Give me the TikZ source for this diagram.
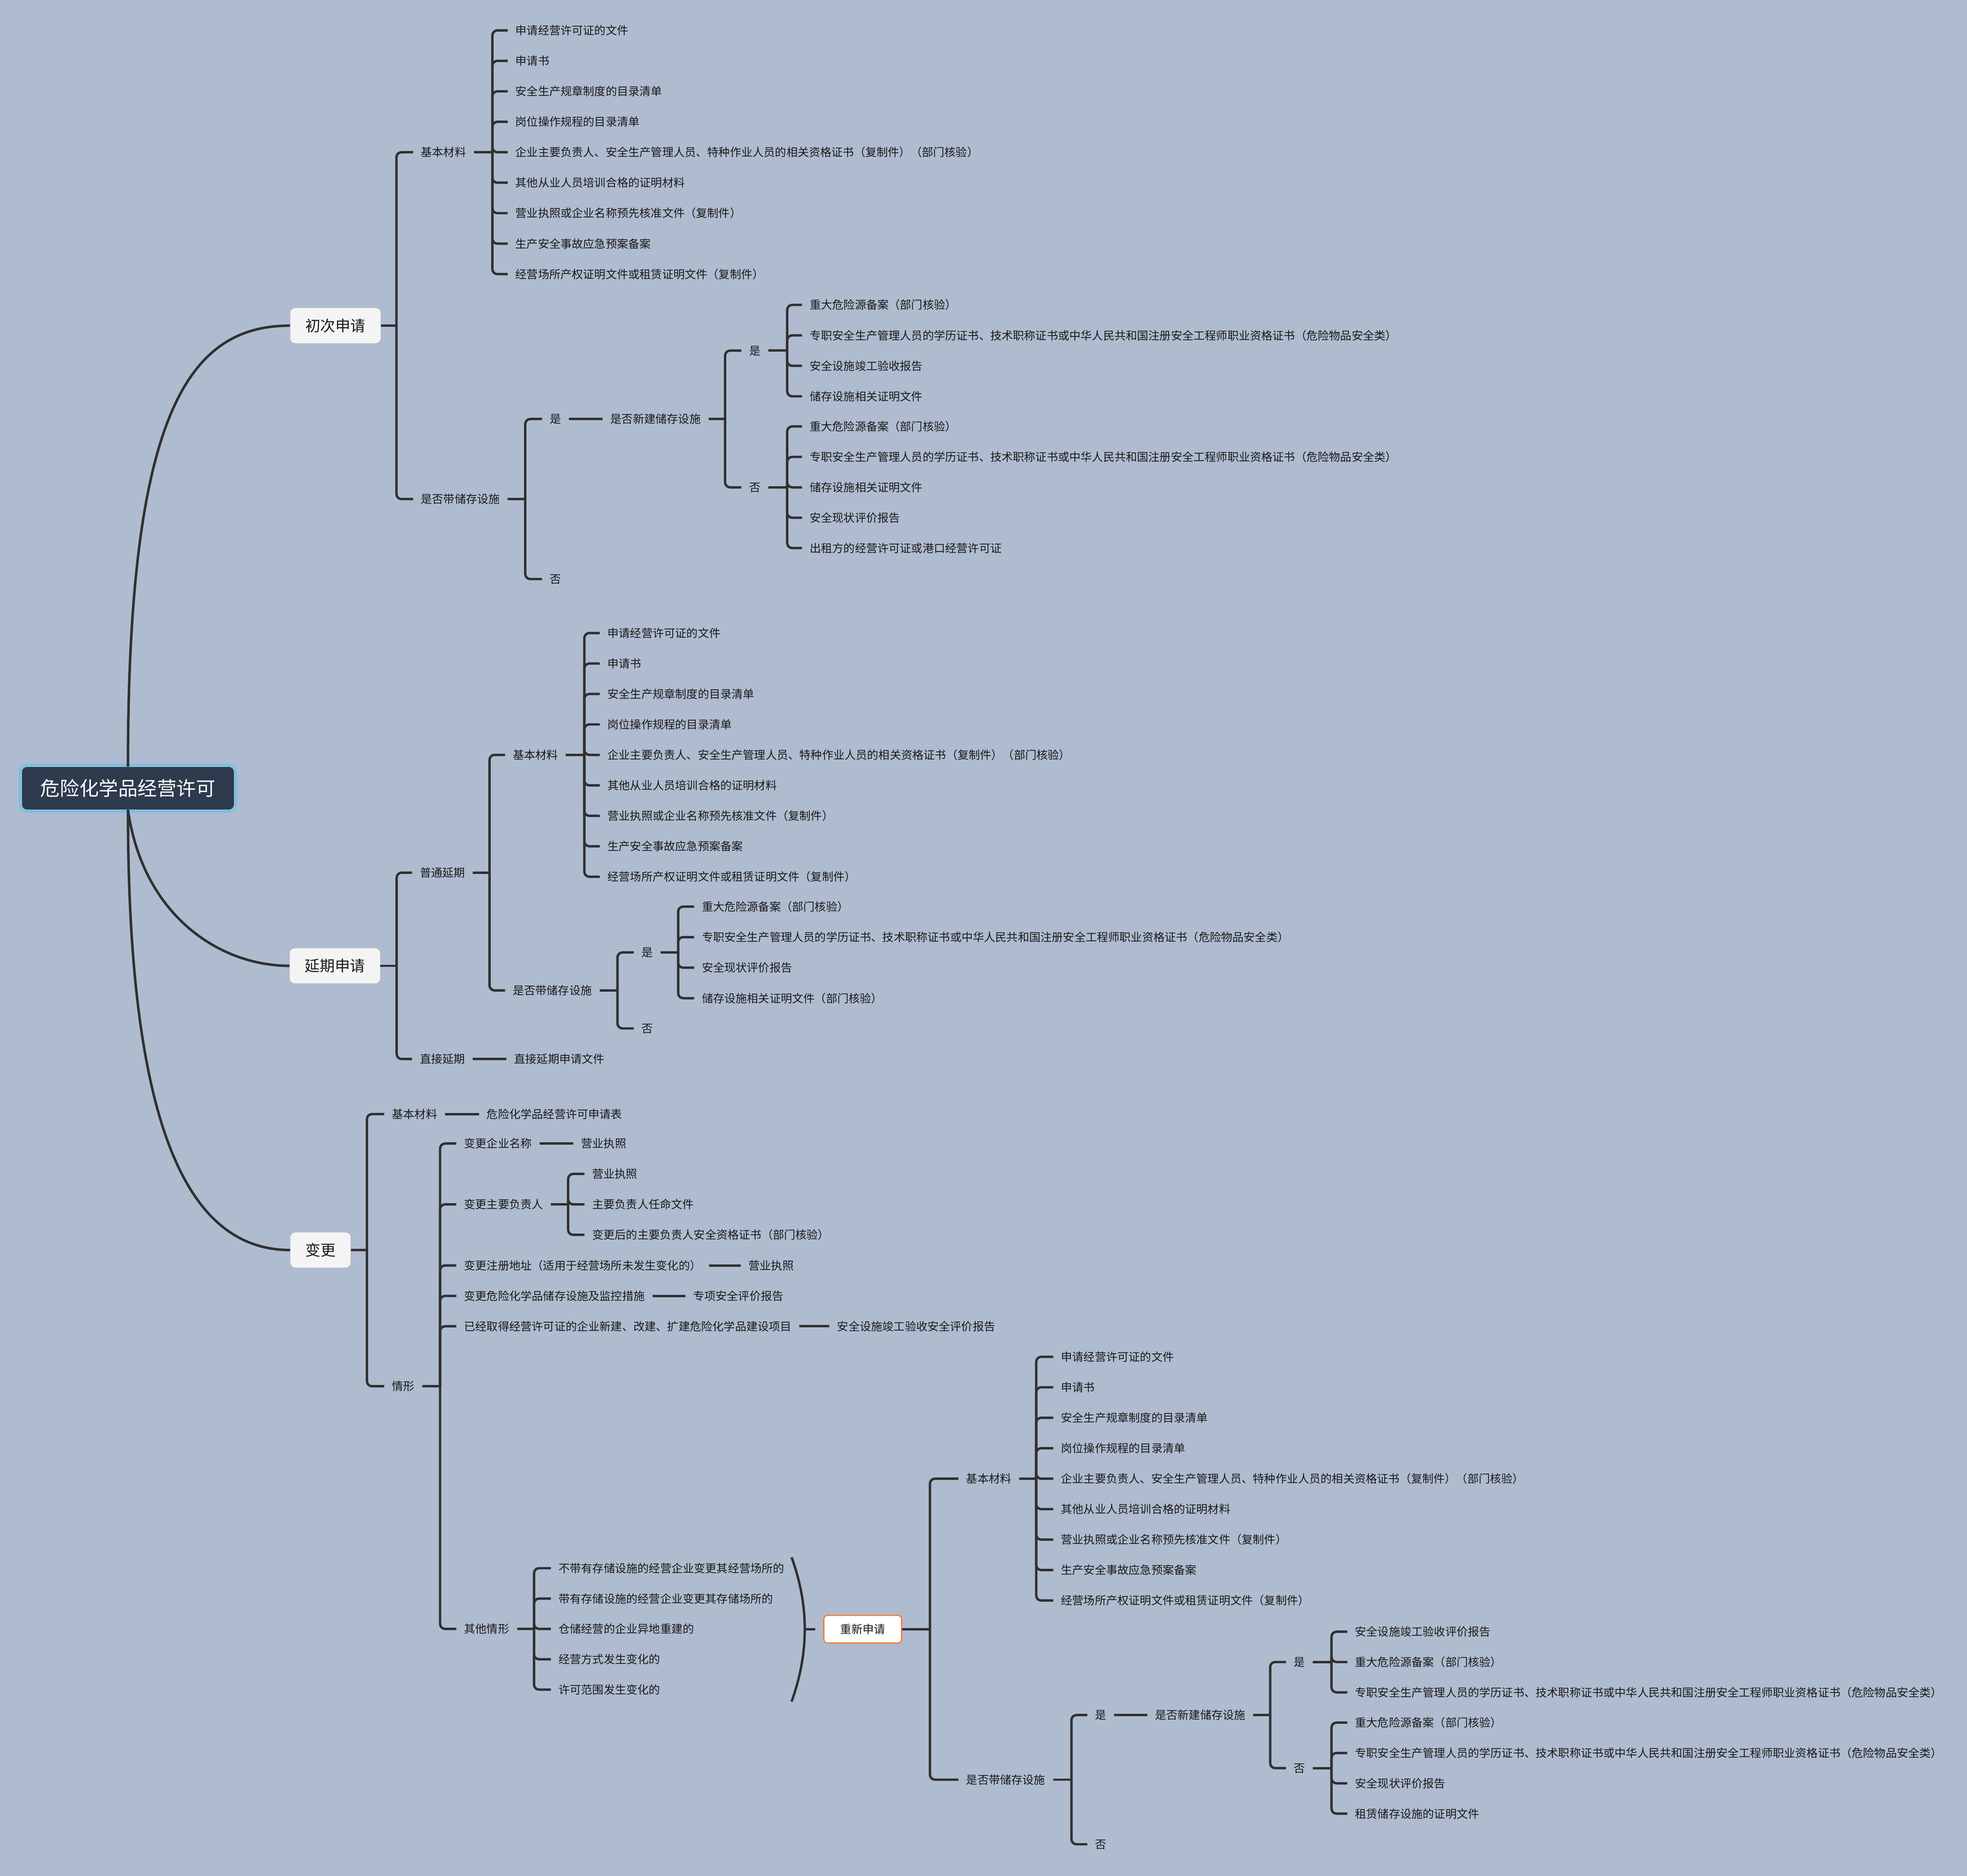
\documentclass[tikz,border=0pt]{standalone}
\usepackage{fontspec}
\setmainfont{Noto Sans CJK SC}
\definecolor{bg}{RGB}{175,187,207}
\definecolor{lnc}{RGB}{48,48,48}
\definecolor{tx}{RGB}{25,25,25}
\definecolor{rootfill}{RGB}{46,58,77}
\definecolor{rootring}{RGB}{92,196,250}
\definecolor{boxfill}{RGB}{244,244,244}
\definecolor{orng}{RGB}{245,120,40}
\newcommand\zhuanzhi{专职安全生产管理人员的学历证书、技术职称证书或中华人民共和国注册安全工程师职业资格证书（危险物品安全类）}
\newcommand\zhongda{重大危险源备案（部门核验）}
\newcommand\basiclist[3]{%
 \foreach \itemtext [count=\i] in {申请经营许可证的文件,申请书,安全生产规章制度的目录清单,岗位操作规程的目录清单,企业主要负责人、安全生产管理人员、特种作业人员的相关资格证书（复制件）（部门核验）,其他从业人员培训合格的证明材料,营业执照或企业名称预先核准文件（复制件）,生产安全事故应急预案备案,经营场所产权证明文件或租赁证明文件（复制件）}
 {\node[lf] (#1-\i) at (#2,{#3+24.29*(\i-5)}) {\itemtext};}%
}
\newcommand\mmgroup[4]{%
 \coordinate (#1-s) at (#2,#3);
 \draw[cn] (#1.east) -- (#1-s);
 \foreach \cc in {#4} {\draw[br] (#1-s) |- (\cc.west);}%
}
\begin{document}
\begin{tikzpicture}[x=1pt,y=-1pt,
 lf/.style={anchor=west, xshift=-6pt, inner xsep=6pt, inner ysep=0pt, text height=7.47pt, text depth=0.63pt, font=\fontsize{9}{9}\selectfont, text=tx},
 l1/.style={rectangle, rounded corners=4pt, fill=boxfill, inner xsep=12pt, inner ysep=0pt, minimum height=28pt, text height=9.96pt, text depth=0.84pt, font=\fontsize{12}{12}\selectfont, text=tx},
 rootbox/.style={rectangle, rounded corners=4pt, fill=rootfill, minimum width=169pt, minimum height=34pt, inner sep=0pt, text=white, text height=12.87pt, text depth=1.09pt, font=\fontsize{15.5}{15.5}\selectfont},
 rebox/.style={rectangle, rounded corners=3pt, draw=orng, fill=white, line width=0.9pt, minimum width=62pt, minimum height=22pt, inner sep=0pt, text=tx, text height=7.47pt, text depth=0.63pt, font=\fontsize{9}{9}\selectfont},
 cn/.style={draw=lnc, line width=1.9pt},
 br/.style={cn, rounded corners=4pt},
 mc/.style={draw=lnc, line width=2pt},
]
\fill[bg] (0,0) rectangle (1568,1495.8);
\useasboundingbox (0,0) rectangle (1568,1495.8);

% root
\node[rootbox] (root) at (102,628.5) {危险化学品经营许可};
\draw[rootring, line width=1.2pt, rounded corners=5pt] ([shift={(-1.4pt,1.4pt)}]root.north west) rectangle ([shift={(1.4pt,-1.4pt)}]root.south east);

% ---------- section 1 ----------
\node[l1] (c1) at (267.4,259.65) {初次申请};
\node[lf] (a1) at (335.3,121.4) {基本材料};
\node[lf] (a2) at (335.3,397.9) {是否带储存设施};
\basiclist{a1l}{410.7}{121.4}
\node[lf] (a2y) at (438,334.1) {是};
\node[lf] (a2n) at (438,461.7) {否};
\node[lf] (a3) at (486.4,334.1) {是否新建储存设施};
\node[lf] (a3y) at (597,279.55) {是};
\node[lf] (a3n) at (597,388.6) {否};
\node[lf] (a4-1) at (645.3,243.1) {\zhongda};
\node[lf] (a4-2) at (645.3,267.4) {\zhuanzhi};
\node[lf] (a4-3) at (645.3,291.7) {安全设施竣工验收报告};
\node[lf] (a4-4) at (645.3,316.0) {储存设施相关证明文件};
\node[lf] (a5-1) at (645.3,340.0) {\zhongda};
\node[lf] (a5-2) at (645.3,364.3) {\zhuanzhi};
\node[lf] (a5-3) at (645.3,388.6) {储存设施相关证明文件};
\node[lf] (a5-4) at (645.3,412.8) {安全现状评价报告};
\node[lf] (a5-5) at (645.3,437.0) {出租方的经营许可证或港口经营许可证};

\mmgroup{c1}{316}{259.65}{a1,a2}
\mmgroup{a1}{392.5}{121.4}{a1l-1,a1l-2,a1l-3,a1l-4,a1l-5,a1l-6,a1l-7,a1l-8,a1l-9}
\mmgroup{a2}{418.7}{397.9}{a2y,a2n}
\draw[cn] (a2y.east) -- (a3.west);
\mmgroup{a3}{578}{334.1}{a3y,a3n}
\mmgroup{a3y}{627.5}{279.55}{a4-1,a4-2,a4-3,a4-4}
\mmgroup{a3n}{627.5}{388.6}{a5-1,a5-2,a5-3,a5-4,a5-5}

% ---------- section 2 ----------
\node[l1] (c2) at (267,770.1) {延期申请};
\node[lf] (b1) at (334.5,695.8) {普通延期};
\node[lf] (b2) at (334.5,844.4) {直接延期};
\node[lf] (b3) at (408.6,601.9) {基本材料};
\node[lf] (b4) at (408.6,789.7) {是否带储存设施};
\basiclist{b3l}{484.1}{601.9}
\node[lf] (b4y) at (511.2,759.4) {是};
\node[lf] (b4n) at (511.2,820.0) {否};
\node[lf] (b5-1) at (559.3,722.9) {\zhongda};
\node[lf] (b5-2) at (559.3,747.2) {\zhuanzhi};
\node[lf] (b5-3) at (559.3,771.6) {安全现状评价报告};
\node[lf] (b5-4) at (559.3,795.9) {储存设施相关证明文件（部门核验）};
\node[lf] (b6) at (409.7,844.4) {直接延期申请文件};

\mmgroup{c2}{316.2}{770.1}{b1,b2}
\mmgroup{b1}{390.2}{695.8}{b3,b4}
\mmgroup{b3}{465.8}{601.9}{b3l-1,b3l-2,b3l-3,b3l-4,b3l-5,b3l-6,b3l-7,b3l-8,b3l-9}
\mmgroup{b4}{492.2}{789.7}{b4y,b4n}
\mmgroup{b4y}{540.6}{759.4}{b5-1,b5-2,b5-3,b5-4}
\draw[cn] (b2.east) -- (b6.west);

% ---------- section 3 ----------
\node[l1] (c3) at (255.5,996.7) {变更};
\node[lf] (d1) at (312.3,888.3) {基本材料};
\node[lf] (d2) at (312.3,1105.3) {情形};
\node[lf] (d3) at (387.8,888.3) {危险化学品经营许可申请表};
\node[lf] (e1) at (369.8,911.8) {变更企业名称};
\node[lf] (e2) at (369.8,960.3) {变更主要负责人};
\node[lf] (e3) at (369.8,1009.0) {变更注册地址（适用于经营场所未发生变化的）};
\node[lf] (e4) at (369.8,1033.3) {变更危险化学品储存设施及监控措施};
\node[lf] (e5) at (369.8,1057.5) {已经取得经营许可证的企业新建、改建、扩建危险化学品建设项目};
\node[lf] (e6) at (369.8,1298.8) {其他情形};
\node[lf] (e1a) at (463,911.8) {营业执照};
\node[lf] (e2-1) at (471.9,936.0) {营业执照};
\node[lf] (e2-2) at (471.9,960.3) {主要负责人任命文件};
\node[lf] (e2-3) at (471.9,984.6) {变更后的主要负责人安全资格证书（部门核验）};
\node[lf] (e3a) at (596.5,1009.0) {营业执照};
\node[lf] (e4a) at (552.3,1033.3) {专项安全评价报告};
\node[lf] (e5a) at (667.2,1057.5) {安全设施竣工验收安全评价报告};
\node[lf] (e6-1) at (445.1,1250.4) {不带有存储设施的经营企业变更其经营场所的};
\node[lf] (e6-2) at (445.1,1274.6) {带有存储设施的经营企业变更其存储场所的};
\node[lf] (e6-3) at (445.1,1298.8) {仓储经营的企业异地重建的};
\node[lf] (e6-4) at (445.1,1323.0) {经营方式发生变化的};
\node[lf] (e6-5) at (445.1,1347.2) {许可范围发生变化的};

\mmgroup{c3}{292.5}{996.7}{d1,d2}
\draw[cn] (d1.east) -- (d3.west);
\mmgroup{d2}{350.8}{1105.3}{e1,e2,e3,e4,e5,e6}
\draw[cn] (e1.east) -- (e1a.west);
\mmgroup{e2}{452.9}{960.3}{e2-1,e2-2,e2-3}
\draw[cn] (e3.east) -- (e3a.west);
\draw[cn] (e4.east) -- (e4a.west);
\draw[cn] (e5.east) -- (e5a.west);
\mmgroup{e6}{425.7}{1298.8}{e6-1,e6-2,e6-3,e6-4,e6-5}

% summary bracket and re-application
\node[rebox] (re) at (687.7,1299) {重新申请};
\coordinate (bt) at (631,1241.7);
\coordinate (bb) at (631,1356.7);
\coordinate (bm) at (641.5,1299);
\draw[cn] (bt) .. controls (645,1280) and (645,1318) .. (bb);
\draw[cn] (bm) -- ([xshift=-6.5pt]re.west);

\node[lf] (f1) at (770,1179) {基本材料};
\node[lf] (f2) at (770,1419) {是否带储存设施};
\basiclist{f1l}{845.6}{1179}
\node[lf] (f2y) at (872.7,1367.5) {是};
\node[lf] (f2n) at (872.7,1470.5) {否};
\node[lf] (f3) at (920.6,1367.5) {是否新建储存设施};
\node[lf] (f3y) at (1031.1,1325.2) {是};
\node[lf] (f3n) at (1031.1,1409.8) {否};
\node[lf] (f4-1) at (1080,1301.0) {安全设施竣工验收评价报告};
\node[lf] (f4-2) at (1080,1325.2) {\zhongda};
\node[lf] (f4-3) at (1080,1349.4) {\zhuanzhi};
\node[lf] (f5-1) at (1080,1373.5) {\zhongda};
\node[lf] (f5-2) at (1080,1397.7) {\zhuanzhi};
\node[lf] (f5-3) at (1080,1421.9) {安全现状评价报告};
\node[lf] (f5-4) at (1080,1446.1) {租赁储存设施的证明文件};

\mmgroup{re}{741.3}{1299}{f1,f2}
\mmgroup{f1}{826}{1179}{f1l-1,f1l-2,f1l-3,f1l-4,f1l-5,f1l-6,f1l-7,f1l-8,f1l-9}
\mmgroup{f2}{854.1}{1419}{f2y,f2n}
\draw[cn] (f2y.east) -- (f3.west);
\mmgroup{f3}{1012.5}{1367.5}{f3y,f3n}
\mmgroup{f3y}{1061.4}{1325.2}{f4-1,f4-2,f4-3}
\mmgroup{f3n}{1061.4}{1409.8}{f5-1,f5-2,f5-3,f5-4}

% main curves
\draw[mc] (root.north) .. controls (102,330) and (150,259.65) .. (c1.west);
\draw[mc] (root.south) .. controls (114,730) and (175,770.1) .. (c2.west);
\draw[mc] (root.south) .. controls (102,900) and (150,996.7) .. (c3.west);
\end{tikzpicture}
\end{document}
